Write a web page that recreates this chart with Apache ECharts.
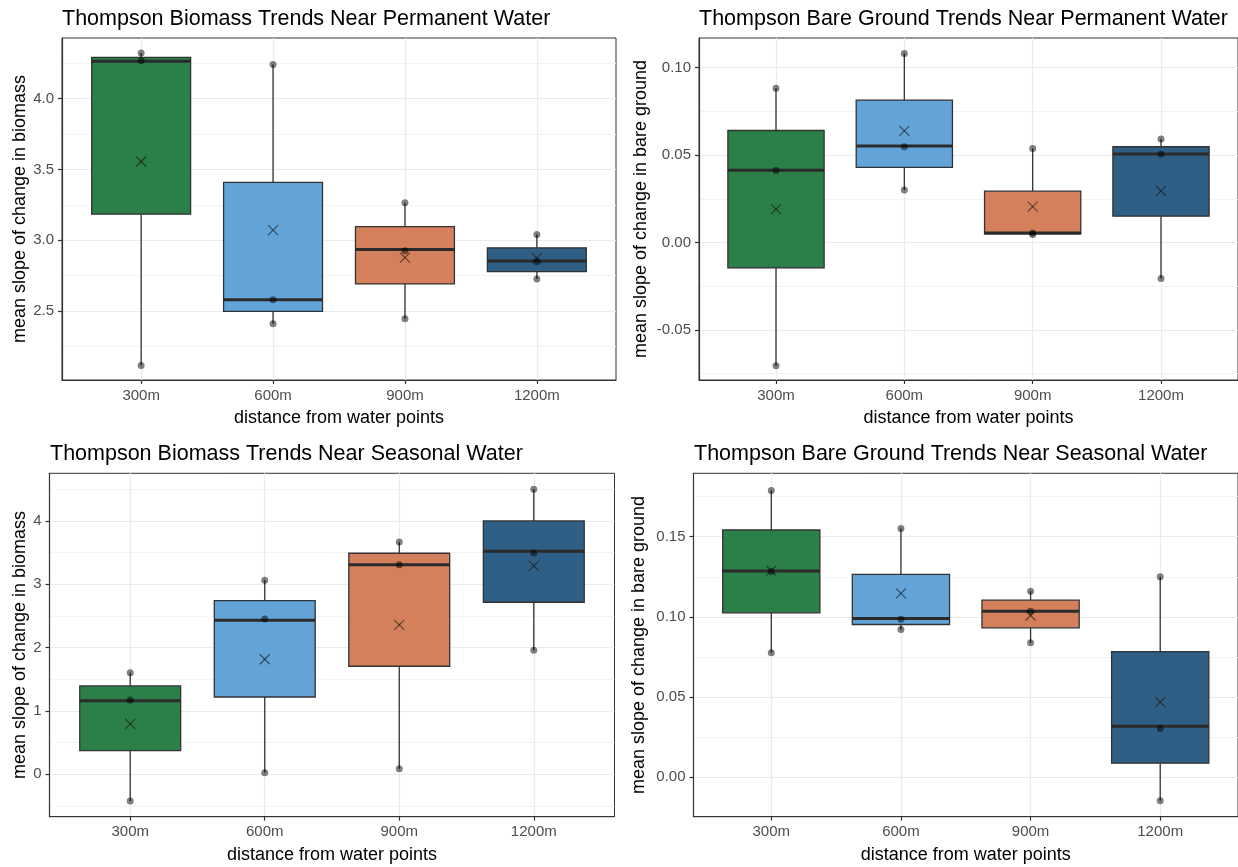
<!DOCTYPE html>
<html>
<head>
<meta charset="utf-8">
<script src="https://cdn.jsdelivr.net/npm/echarts@6/dist/echarts.min.js"></script>
<style>
html,body{margin:0;padding:0;background:#fff;}
#chart{width:1238px;height:867px;}
</style>
</head>
<body>
<div id="chart"></div>
<script>
// ---------- data ----------
const categories = ['300m', '600m', '900m', '1200m'];
const boxColors = ['#2b7f48', '#62a3d8', '#d4805c', '#2f5f85'];

// box stats: [min, Q1, median, Q3, max]
const bioPermBox = [[2.115, 3.184, 4.265, 4.292, 4.323], [2.410, 2.497, 2.580, 3.408, 4.241], [2.445, 2.691, 2.934, 3.096, 3.264], [2.726, 2.778, 2.853, 2.946, 3.040]];
const bioPermMean = [3.556, 3.071, 2.877, 2.873];
const bioPermPoints = [[4.323, 4.269, 2.115], [4.241, 2.580, 2.410], [3.264, 2.926, 2.445], [3.040, 2.849, 2.726]];

const barePermBox = [[-0.0704, -0.0145, 0.0414, 0.0641, 0.0882], [0.0300, 0.0430, 0.0553, 0.0815, 0.1082], [0.0046, 0.0050, 0.0055, 0.0294, 0.0538], [-0.0206, 0.0151, 0.0507, 0.0548, 0.0593]];
const barePermMean = [0.0191, 0.0639, 0.0206, 0.0296];
const barePermPoints = [[0.0882, 0.0412, -0.0704], [0.1082, 0.0548, 0.0300], [0.0538, 0.0055, 0.0046], [0.0593, 0.0507, -0.0206]];

const bioSeasBox = [[-0.422, 0.373, 1.163, 1.395, 1.605], [0.025, 1.221, 2.433, 2.743, 3.065], [0.088, 1.706, 3.311, 3.491, 3.670], [1.959, 2.717, 3.523, 4.002, 4.502]];
const bioSeasMean = [0.795, 1.817, 2.359, 3.291];
const bioSeasPoints = [[1.605, 1.174, -0.422], [3.065, 2.453, 0.025], [3.670, 3.311, 0.088], [4.502, 3.496, 1.959]];

const bareSeasBox = [[0.0775, 0.1025, 0.1286, 0.1542, 0.1789], [0.0921, 0.0952, 0.0990, 0.1265, 0.1552], [0.0838, 0.0931, 0.1035, 0.1104, 0.1160], [-0.0148, 0.0086, 0.0317, 0.0783, 0.1250]];
const bareSeasMean = [0.1288, 0.1146, 0.1008, 0.0467];
const bareSeasPoints = [[0.1789, 0.1283, 0.0775], [0.1552, 0.0985, 0.0921], [0.1160, 0.1035, 0.0838], [0.1250, 0.0302, -0.0148]];

// tick labels
const bioPermTicks = [2.5, 3.0, 3.5, 4.0];
const bioPermMinor = [2.25, 2.75, 3.25, 3.75, 4.25];
const barePermTicks = [-0.05, 0.00, 0.05, 0.10];
const barePermMinor = [-0.075, -0.025, 0.025, 0.075];
const bioSeasTicks = [0, 1, 2, 3, 4];
const bioSeasMinor = [-0.5, 0.5, 1.5, 2.5, 3.5, 4.5];
const bareSeasTicks = [0.00, 0.05, 0.10, 0.15];
const bareSeasMinor = [0.025, 0.075, 0.125, 0.175];

const titles = [
  'Thompson Biomass Trends Near Permanent Water',
  'Thompson Bare Ground Trends Near Permanent Water',
  'Thompson Biomass Trends Near Seasonal Water',
  'Thompson Bare Ground Trends Near Seasonal Water'
];
const xName = 'distance from water points';
const yNames = ['mean slope of change in biomass', 'mean slope of change in bare ground'];

// ---------- layout ----------
const FONT = '"Liberation Sans", Arial, sans-serif';
const panels = [
  {box: bioPermBox, mean: bioPermMean, pts: bioPermPoints, ticks: bioPermTicks, minor: bioPermMinor, dec: 1,
   grid: {left: 62, top: 38, width: 554, height: 342}, ymin: 2.012, ymax: 4.429, title: titles[0], yName: yNames[0], yGap: 31, tLeft: 62, tTop: 8},
  {box: barePermBox, mean: barePermMean, pts: barePermPoints, ticks: barePermTicks, minor: barePermMinor, dec: 2,
   grid: {left: 699, top: 38, width: 541, height: 342}, ymin: -0.0786, ymax: 0.117, title: titles[1], yName: yNames[1], yGap: 49, tLeft: 699, tTop: 8},
  {box: bioSeasBox, mean: bioSeasMean, pts: bioSeasPoints, ticks: bioSeasTicks, minor: bioSeasMinor, dec: 0,
   grid: {left: 49.5, top: 473.3, width: 565, height: 343.4}, ymin: -0.670, ymax: 4.754, title: titles[2], yName: yNames[0], yGap: 19, tLeft: 50, tTop: 443},
  {box: bareSeasBox, mean: bareSeasMean, pts: bareSeasPoints, ticks: bareSeasTicks, minor: bareSeasMinor, dec: 2,
   grid: {left: 693.5, top: 473.3, width: 545, height: 343.4}, ymin: -0.0248, ymax: 0.1896, title: titles[3], yName: yNames[1], yGap: 45, tLeft: 694, tTop: 443}
];

const catPos = categories.map((c, i) => i + 1);
const BOX_HALF = 0.375;

function renderBox(params, api) {
  const x = api.value(0);
  const lo = api.value(1), q1 = api.value(2), med = api.value(3), q3 = api.value(4), hi = api.value(5), mean = api.value(6);
  const tl = api.coord([x - BOX_HALF, q3]);
  const br = api.coord([x + BOX_HALF, q1]);
  const cHi = api.coord([x, hi]);
  const cQ3 = api.coord([x, q3]);
  const cQ1 = api.coord([x, q1]);
  const cLo = api.coord([x, lo]);
  const mL = api.coord([x - BOX_HALF, med]);
  const mR = api.coord([x + BOX_HALF, med]);
  const cm = api.coord([x, mean]);
  const s = 5;
  const lineStyle = {stroke: '#333333', lineWidth: 1.3};
  return {
    type: 'group',
    children: [
      {type: 'line', shape: {x1: cHi[0], y1: cHi[1], x2: cQ3[0], y2: cQ3[1]}, style: lineStyle},
      {type: 'line', shape: {x1: cQ1[0], y1: cQ1[1], x2: cLo[0], y2: cLo[1]}, style: lineStyle},
      {type: 'rect', shape: {x: tl[0], y: tl[1], width: br[0] - tl[0], height: br[1] - tl[1]},
       style: {fill: boxColors[params.dataIndex], stroke: '#333333', lineWidth: 1.3}},
      {type: 'line', shape: {x1: mL[0], y1: mL[1], x2: mR[0], y2: mR[1]}, style: {stroke: '#2b2b2b', lineWidth: 3}},
      {type: 'line', shape: {x1: cm[0] - s, y1: cm[1] - s, x2: cm[0] + s, y2: cm[1] + s}, style: {stroke: 'rgba(20,20,20,0.6)', lineWidth: 1.2}},
      {type: 'line', shape: {x1: cm[0] - s, y1: cm[1] + s, x2: cm[0] + s, y2: cm[1] - s}, style: {stroke: 'rgba(20,20,20,0.6)', lineWidth: 1.2}}
    ]
  };
}

const option = {
  backgroundColor: '#ffffff',
  animation: false,
  textStyle: {fontFamily: FONT},
  title: [], grid: [], xAxis: [], yAxis: [], series: []
};

panels.forEach((p, i) => {
  option.title.push({
    text: p.title, left: p.tLeft, top: p.tTop, padding: 0,
    textStyle: {fontFamily: FONT, fontSize: 21.5, fontWeight: 'normal', color: '#000'}
  });
  option.grid.push(Object.assign({show: true, borderColor: '#333333', borderWidth: 1, backgroundColor: '#ffffff', containLabel: false}, p.grid));
  option.xAxis.push({
    gridIndex: i, type: 'value', min: 0.4, max: 4.6,
    name: xName, nameLocation: 'middle', nameGap: 29,
    nameTextStyle: {fontFamily: FONT, fontSize: 18, color: '#000'},
    axisLine: {show: true, onZero: false, lineStyle: {color: '#333333', width: 1.2}},
    axisTick: {show: true, customValues: catPos, length: 4, lineStyle: {color: '#333333', width: 1.2}},
    axisLabel: {customValues: catPos, formatter: v => categories[Math.round(v) - 1], color: '#4d4d4d', fontSize: 15, margin: 8, fontFamily: FONT},
    splitLine: {show: true, lineStyle: {color: '#ebebeb', width: 1.2}}
  });
  const mainIdx = option.yAxis.length;
  option.yAxis.push({
    gridIndex: i, type: 'value', min: p.ymin, max: p.ymax, position: 'left',
    name: p.yName, nameLocation: 'middle', nameGap: p.yGap,
    nameTextStyle: {fontFamily: FONT, fontSize: 18, color: '#000'},
    axisLine: {show: true, onZero: false, lineStyle: {color: '#333333', width: 1.2}},
    axisTick: {show: true, customValues: p.ticks, length: 4, lineStyle: {color: '#333333', width: 1.2}},
    axisLabel: {customValues: p.ticks, formatter: v => Number(v).toFixed(p.dec), color: '#4d4d4d', fontSize: 15, margin: 8, fontFamily: FONT},
    splitLine: {show: true, lineStyle: {color: '#ebebeb', width: 1.2}}
  });
  option.yAxis.push({
    gridIndex: i, type: 'value', min: p.ymin, max: p.ymax, position: 'left',
    axisLine: {show: false}, axisTick: {show: false, customValues: p.minor},
    axisLabel: {show: false, customValues: p.minor},
    splitLine: {show: true, lineStyle: {color: '#f4f4f4', width: 1}}
  });
  option.series.push({
    type: 'custom', xAxisIndex: i, yAxisIndex: mainIdx, z: 2,
    renderItem: renderBox,
    encode: {x: 0, y: [1, 2, 3, 4, 5, 6]},
    data: p.box.map((b, k) => [catPos[k], b[0], b[1], b[2], b[3], b[4], p.mean[k]])
  });
  const pts = [];
  p.pts.forEach((arr, k) => arr.forEach(v => pts.push([catPos[k], v])));
  option.series.push({
    type: 'scatter', xAxisIndex: i, yAxisIndex: mainIdx, z: 3,
    symbol: 'circle', symbolSize: 7,
    itemStyle: {color: 'rgba(0,0,0,0.62)'},
    data: pts
  });
});

const chart = echarts.init(document.getElementById('chart'), null, {renderer: 'canvas'});
chart.setOption(option);
</script>
</body>
</html>
